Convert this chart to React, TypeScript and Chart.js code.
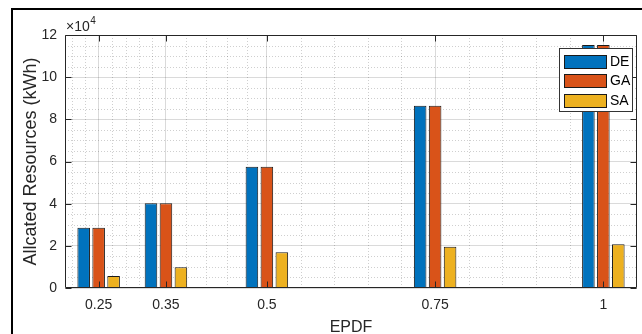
import React, { useEffect, useRef } from 'react';
import { Chart, registerables } from 'chart.js';

Chart.register(...registerables);

// ---- data ----
const EPDF = [0.25, 0.35, 0.5, 0.75, 1];
const DE = [28600, 40200, 57500, 86500, 115300];
const GA = [28600, 40200, 57500, 86500, 115300];
const SA = [5700, 9800, 16900, 19600, 20700];
const SERIES_NAMES = ['DE', 'GA', 'SA'];
const SERIES_COLORS = ['#0072BD', '#D95319', '#EDB120'];
const Y_TICKS = [0, 20000, 40000, 60000, 80000, 100000, 120000];
const X_MINOR = [0.21, 0.23, 0.27, 0.29, 0.31, 0.33, 0.38, 0.41, 0.44, 0.47, 0.55, 0.6, 0.65, 0.7, 0.8, 0.85, 0.9, 0.95];
const Y_MINOR = [5000, 10000, 15000, 25000, 30000, 35000, 45000, 50000, 55000, 65000, 70000, 75000, 85000, 90000, 95000, 105000, 110000, 115000];

const FONT = 'Liberation Sans, Arial, Helvetica, sans-serif';
const AXIS_COLOR = '#262626';
const MAJOR_GRID = 'rgba(38,38,38,0.17)';
const MINOR_GRID = 'rgba(38,38,38,0.22)';
const TICK_LEN = 6;

const decorPlugin = {
  id: 'decor',
  beforeDraw(chart: any) {
    const ctx = chart.ctx;
    ctx.save();
    ctx.fillStyle = '#ffffff';
    ctx.fillRect(0, 0, chart.width, chart.height);
    ctx.fillStyle = '#000000';
    ctx.fillRect(11, 8, chart.width, 2);
    ctx.fillRect(11, 8, 2, chart.height);
    ctx.restore();
  },
  beforeDatasetsDraw(chart: any) {
    const { ctx, chartArea: a, scales } = chart;
    const x = scales.x, y = scales.y;
    ctx.save();
    ctx.strokeStyle = MINOR_GRID;
    ctx.lineWidth = 1;
    ctx.setLineDash([1, 2]);
    X_MINOR.forEach((v) => {
      const px = Math.round(x.getPixelForValue(v)) + 0.5;
      ctx.beginPath();
      ctx.moveTo(px, a.top);
      ctx.lineTo(px, a.bottom);
      ctx.stroke();
    });
    Y_MINOR.forEach((v) => {
      const py = Math.round(y.getPixelForValue(v)) + 0.5;
      ctx.beginPath();
      ctx.moveTo(a.left, py);
      ctx.lineTo(a.right, py);
      ctx.stroke();
    });
    ctx.restore();
  },
  afterDatasetsDraw(chart: any) {
    const { ctx, chartArea: a, scales } = chart;
    const x = scales.x, y = scales.y;
    ctx.save();
    ctx.strokeStyle = AXIS_COLOR;
    ctx.lineWidth = 1;
    const L = a.left + 0.5, R = a.right - 0.5, T = a.top + 0.5, B = a.bottom - 0.5;
    ctx.beginPath();
    ctx.rect(L, T, R - L, B - T);
    ctx.stroke();
    ctx.beginPath();
    EPDF.forEach((v) => {
      const px = Math.round(x.getPixelForValue(v)) + 0.5;
      ctx.moveTo(px, B);
      ctx.lineTo(px, B - TICK_LEN);
      ctx.moveTo(px, T);
      ctx.lineTo(px, T + TICK_LEN);
    });
    Y_TICKS.forEach((v) => {
      const py = Math.round(y.getPixelForValue(v)) + 0.5;
      ctx.moveTo(L, py);
      ctx.lineTo(L + TICK_LEN, py);
      ctx.moveTo(R, py);
      ctx.lineTo(R - TICK_LEN, py);
    });
    ctx.stroke();
    ctx.restore();
  },
  afterDraw(chart: any) {
    const { ctx, chartArea: a } = chart;
    ctx.save();
    // exponent label
    ctx.fillStyle = AXIS_COLOR;
    ctx.textBaseline = 'alphabetic';
    ctx.textAlign = 'left';
    ctx.font = `14px ${FONT}`;
    const base = '\u00d710';
    ctx.fillText(base, a.left + 1, a.top - 4);
    const w = ctx.measureText(base).width;
    ctx.font = `10px ${FONT}`;
    ctx.fillText('4', a.left + 1 + w + 0.5, a.top - 11);

    // legend
    const bw = 73, bh = 63;
    const bx = Math.round(a.right - 5 - bw) + 0.5;
    const by = Math.round(a.top + 13) + 0.5;
    ctx.fillStyle = '#ffffff';
    ctx.fillRect(bx, by, bw, bh);
    ctx.strokeStyle = '#333333';
    ctx.lineWidth = 1;
    ctx.strokeRect(bx, by, bw, bh);
    chart.data.datasets.forEach((ds: any, i: number) => {
      const sx = bx + 4.5;
      const sy = Math.round(by + 6 + i * 19.7);
      ctx.fillStyle = ds.backgroundColor;
      ctx.fillRect(sx, sy, 43, 14);
      ctx.strokeStyle = '#1a1a1a';
      ctx.strokeRect(sx + 0.5, sy + 0.5, 42, 13);
      ctx.fillStyle = '#000000';
      ctx.font = `14px ${FONT}`;
      ctx.textBaseline = 'middle';
      ctx.fillText(ds.label, sx + 46, sy + 7.5);
    });
    ctx.restore();
  },
};

export default function App() {
  const ref = useRef<HTMLCanvasElement | null>(null);
  useEffect(() => {
    if (!ref.current) return;
    const series = [DE, GA, SA];
    const chart = new Chart(ref.current, {
      type: 'bar',
      data: {
        datasets: series.map((vals, i) => ({
          label: SERIES_NAMES[i],
          data: EPDF.map((xv, j) => ({ x: xv, y: vals[j] })),
          backgroundColor: SERIES_COLORS[i],
          borderColor: '#1a1a1a',
          borderWidth: 1,
          categoryPercentage: 0.667,
          barPercentage: 0.84,
        })),
      },
      options: {
        animation: false,
        responsive: false,
        devicePixelRatio: 1,
        layout: { padding: { left: 0, top: 35, right: 5, bottom: 0 } },
        plugins: { legend: { display: false }, tooltip: { enabled: false } },
        scales: {
          x: {
            type: 'linear',
            min: 0.2,
            max: 1.05,
            offset: false,
            afterBuildTicks: (s: any) => {
              s.ticks = EPDF.map((v) => ({ value: v }));
            },
            afterFit: (s: any) => {
              s.height = 52;
            },
            grid: { color: MAJOR_GRID, drawTicks: false, offset: false, lineWidth: 1 },
            border: { display: false },
            ticks: {
              padding: 9,
              autoSkip: false,
              maxRotation: 0,
              color: AXIS_COLOR,
              font: { family: FONT, size: 14 },
              callback: (v: any) => String(Number(v)),
            },
            title: {
              display: true,
              text: 'EPDF',
              color: AXIS_COLOR,
              font: { family: FONT, size: 16 },
              padding: { top: 0, bottom: 3 },
            },
          },
          y: {
            type: 'linear',
            min: 0,
            max: 120000,
            afterBuildTicks: (s: any) => {
              s.ticks = Y_TICKS.map((v) => ({ value: v }));
            },
            afterFit: (s: any) => {
              s.width = 65;
            },
            grid: { color: MAJOR_GRID, drawTicks: false, lineWidth: 1 },
            border: { display: false },
            ticks: {
              padding: 8,
              color: AXIS_COLOR,
              font: { family: FONT, size: 14 },
              callback: (v: any) => String(Number(v) / 10000),
            },
            title: {
              display: true,
              text: 'Allcated Resources (kWh)',
              color: AXIS_COLOR,
              font: { family: FONT, size: 18 },
              padding: { top: 20, bottom: 0 },
            },
          },
        },
      },
      plugins: [decorPlugin],
    } as any);
    return () => chart.destroy();
  }, []);
  return (
    <div style={{ position: 'fixed', left: 0, top: 0, width: 642, height: 340, background: '#fff' }}>
      <canvas ref={ref} width={642} height={340} style={{ display: 'block', width: 642, height: 340 }} />
    </div>
  );
}
